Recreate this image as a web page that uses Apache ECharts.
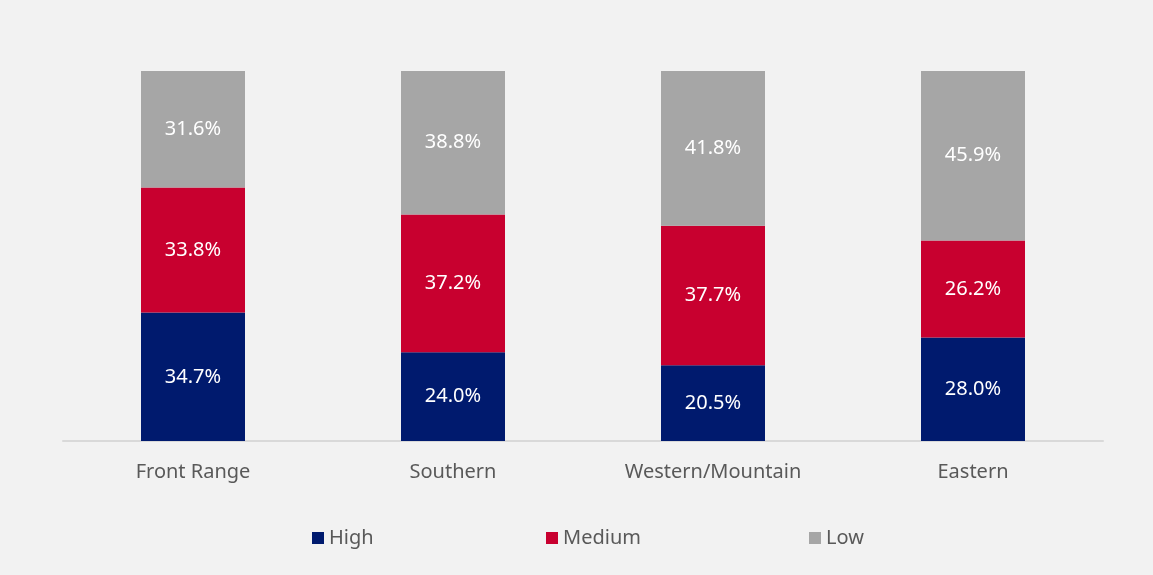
<!DOCTYPE html>
<html>
<head>
<meta charset="utf-8">
<script src="https://cdn.jsdelivr.net/npm/echarts@6/dist/echarts.min.js"></script>
<style>
  html, body { margin: 0; padding: 0; background: #f2f2f2; }
  #chart { width: 1153px; height: 575px; }
</style>
</head>
<body>
<div id="chart"></div>
<script>
// Regions and the share of each level (percent)
const regions = ['Front Range', 'Southern', 'Western/Mountain', 'Eastern'];
const high = [34.7, 24.0, 20.5, 28.0];
const medium = [33.8, 37.2, 37.7, 26.2];
const low = [31.6, 38.8, 41.8, 45.9];

const FONT = 'Noto Sans';
const colors = { High: '#001a6e', Medium: '#c8002f', Low: '#a6a6a6' };

function seriesFor(name, values) {
  return {
    name: name,
    type: 'bar',
    stack: 'total',
    barWidth: '40%',
    data: values,
    itemStyle: { color: colors[name] },
    label: {
      show: true,
      position: 'inside',
      color: '#ffffff',
      fontFamily: FONT,
      fontSize: 20,
      formatter: p => p.value.toFixed(1) + '%'
    }
  };
}

function legendAt(name, left) {
  return {
    data: [name],
    left: left,
    top: 523,
    itemWidth: 12,
    itemHeight: 12,
    itemGap: 0,
    icon: 'rect',
    textStyle: { color: '#595959', fontFamily: FONT, fontSize: 20 }
  };
}

const chart = echarts.init(document.getElementById('chart'));
chart.setOption({
  backgroundColor: '#f2f2f2',
  animation: false,
  grid: { left: 63, right: 50, top: 71, bottom: 134 },
  legend: [legendAt('High', 307), legendAt('Medium', 541), legendAt('Low', 804)],
  xAxis: {
    type: 'category',
    data: regions,
    axisTick: { show: false },
    axisLine: { lineStyle: { color: '#d9d9d9', width: 2 } },
    axisLabel: { color: '#595959', fontFamily: FONT, fontSize: 20, margin: 21 }
  },
  yAxis: {
    type: 'value',
    min: 0,
    max: 100,
    show: false,
    splitLine: { show: false }
  },
  series: [
    seriesFor('High', high),
    seriesFor('Medium', medium),
    seriesFor('Low', low)
  ]
});
</script>
</body>
</html>
